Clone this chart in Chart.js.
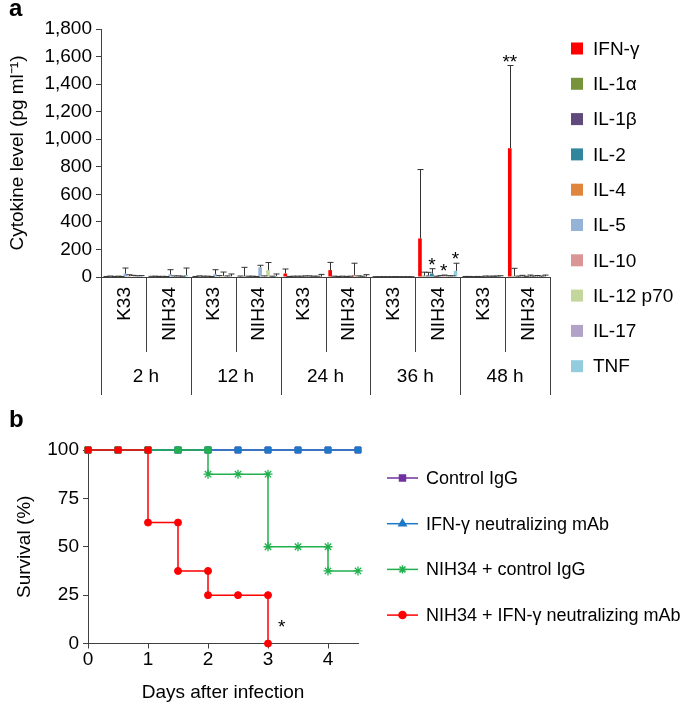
<!DOCTYPE html>
<html>
<head>
<meta charset="utf-8">
<script src="https://cdn.jsdelivr.net/npm/chart.js@4.4.0/dist/chart.umd.min.js"></script>
<style>
    html, body { margin: 0; padding: 0; background: #fff; }
    #wrap { position: relative; width: 685px; height: 706px; }
    canvas { position: absolute; left: 0; }
    #chartA { top: 0; }
    #chartB { top: 410px; }
</style>
</head>
<body>
<div id="wrap">
    <canvas id="chartA" width="685" height="410"></canvas>
    <canvas id="chartB" width="685" height="296"></canvas>
</div>
<script>
// ---- panel a data ----
const groups = ['K33', 'NIH34', 'K33', 'NIH34', 'K33', 'NIH34', 'K33', 'NIH34', 'K33', 'NIH34'];
const timePoints = ['2 h', '12 h', '24 h', '36 h', '48 h'];
const cytokines = ['IFN-γ', 'IL-1α', 'IL-1β', 'IL-2', 'IL-4', 'IL-5', 'IL-10', 'IL-12 p70', 'IL-17', 'TNF'];
const cytokineColors = ['#FF0000', '#77933C', '#604A7B', '#31859C', '#E0863C', '#95B3D7', '#D99694', '#C3D69B', '#B3A2C7', '#93CDDD'];

// mean level per group (2h K33, 2h NIH34, 12h K33, ... 48h NIH34)
const ifng  = [2, 3, 2, 4, 25, 50, 1, 280, 2, 935];
const il1a  = [3, 3, 4, 5, 2, 3, 1, 10, 2, 8];
const il1b  = [2, 2, 3, 3, 3, 2, 1, 12, 1, 3];
const il2   = [3, 3, 3, 3, 3, 3, 1, 25, 2, 4];
const il4   = [2, 2, 2, 2, 3, 2, 1, 3, 1, 2];
const il5   = [25, 20, 20, 70, 4, 3, 2, 5, 4, 4];
const il10  = [8, 4, 5, 4, 4, 15, 1, 8, 3, 3];
const il12  = [6, 4, 8, 50, 3, 4, 1, 5, 3, 3];
const il17  = [5, 3, 4, 3, 3, 3, 1, 5, 4, 3];
const tnf   = [5, 15, 5, 8, 3, 3, 1, 45, 5, 4];

// upper error bars
const ifngErr = [2, 2, 2, 3, 33, 56, 1, 500, 2, 600];
const il1aErr = [4, 3, 4, 65, 2, 3, 1, 25, 2, 55];
const il1bErr = [2, 2, 3, 3, 3, 2, 1, 22, 1, 4];
const il2Err  = [3, 2, 3, 3, 3, 3, 1, 35, 2, 8];
const il4Err  = [2, 2, 2, 2, 3, 2, 1, 3, 1, 3];
const il5Err  = [40, 33, 33, 15, 4, 3, 1, 5, 3, 10];
const il10Err = [8, 4, 5, 4, 4, 85, 1, 6, 3, 4];
const il12Err = [6, 4, 28, 55, 3, 4, 1, 4, 3, 8];
const il17Err = [4, 3, 4, 3, 3, 3, 1, 4, 3, 4];
const tnfErr  = [5, 50, 17, 14, 16, 14, 1, 55, 4, 10];

const levels = [ifng, il1a, il1b, il2, il4, il5, il10, il12, il17, tnf];
const errors = [ifngErr, il1aErr, il1bErr, il2Err, il4Err, il5Err, il10Err, il12Err, il17Err, tnfErr];

// significance marks: group index, cytokine index, text
const sigMarks = [
    { group: 7, cytokine: 3, text: '*' },
    { group: 7, cytokine: 6, text: '*' },
    { group: 7, cytokine: 9, text: '*' },
    { group: 9, cytokine: 0, text: '**' }
];

// ---- panel b data ----
const survivalLabels = ['Control IgG', 'IFN-γ neutralizing mAb', 'NIH34 + control IgG', 'NIH34 + IFN-γ neutralizing mAb'];
const survivalColors = ['#7030A0', '#1E78C8', '#22B04E', '#FF0000'];
const survivalMarkers = ['rect', 'triangle', 'star', 'circle'];

const ctrlDays  = [0, 0.5, 1, 1.5, 2, 2.5, 3, 3.5, 4, 4.5];
const ctrlSurv  = [100, 100, 100, 100, 100, 100, 100, 100, 100, 100];
const mabDays   = [0, 0.5, 1, 1.5, 2, 2.5, 3, 3.5, 4, 4.5];
const mabSurv   = [100, 100, 100, 100, 100, 100, 100, 100, 100, 100];
const nihDays   = [0, 0.5, 1, 1.5, 2, 2, 2.5, 3, 3, 3.5, 4, 4, 4.5];
const nihSurv   = [100, 100, 100, 100, 100, 87.5, 87.5, 87.5, 50, 50, 50, 37.5, 37.5];
const nihMabDays = [0, 0.5, 1, 1, 1.5, 1.5, 2, 2, 2.5, 3, 3];
const nihMabSurv = [100, 100, 100, 62.5, 62.5, 37.5, 37.5, 25, 25, 25, 0];
const survivalStar = { x: 3.23, y: 10, text: '*' };

const FONT = "'Liberation Sans', Arial, Helvetica, sans-serif";
const AXIS = '#404040';
Chart.defaults.font.family = FONT;
Chart.defaults.font.size = 19;
Chart.defaults.color = '#000';

// 面板 a: 误差线、显著性、分组表、图例
const panelA = {
    id: 'panelA',
    afterDatasetsDraw(chart) {
        const ctx = chart.ctx;
        const y = chart.scales.y;
        ctx.save();
        ctx.strokeStyle = '#333';
        ctx.lineWidth = 1;
        chart.data.datasets.forEach((ds, i) => {
            const meta = chart.getDatasetMeta(i);
            meta.data.forEach((bar, j) => {
                const err = errors[i][j];
                if (!err) return;
                const top = y.getPixelForValue(ds.data[j] + err);
                const bx = Math.round(bar.x) + 0.5;
                ctx.beginPath();
                ctx.moveTo(bx, bar.y);
                ctx.lineTo(bx, top);
                ctx.moveTo(bx - 3, top);
                ctx.lineTo(bx + 3, top);
                ctx.stroke();
            });
        });
        ctx.fillStyle = '#000';
        ctx.font = '19px ' + FONT;
        ctx.textAlign = 'center';
        ctx.textBaseline = 'alphabetic';
        sigMarks.forEach(m => {
            const bar = chart.getDatasetMeta(m.cytokine).data[m.group];
            const top = y.getPixelForValue(levels[m.cytokine][m.group] + errors[m.cytokine][m.group]);
            ctx.fillText(m.text, bar.x, top + 2);
        });
        ctx.restore();
    },
    afterDraw(chart) {
        const ctx = chart.ctx;
        const x = chart.scales.x;
        const area = chart.chartArea;
        ctx.save();
        // 表格竖线
        ctx.strokeStyle = AXIS;
        ctx.lineWidth = 1;
        for (let k = 0; k <= groups.length; k++) {
            const xx = Math.round(x.getPixelForValue(k - 0.5)) + 0.5;
            ctx.beginPath();
            ctx.moveTo(xx, area.bottom);
            ctx.lineTo(xx, k % 2 === 0 ? 395 : 352);
            ctx.stroke();
        }
        ctx.fillStyle = '#000';
        ctx.font = '19px ' + FONT;
        // 菌株标签（竖排）
        groups.forEach((g, j) => {
            ctx.save();
            ctx.translate(x.getPixelForValue(j) + 1, 287);
            ctx.rotate(-Math.PI / 2);
            ctx.textAlign = 'right';
            ctx.textBaseline = 'middle';
            ctx.fillText(g, 0, 0);
            ctx.restore();
        });
        // 时间标签
        ctx.textAlign = 'center';
        ctx.textBaseline = 'middle';
        timePoints.forEach((t, i) => {
            ctx.fillText(t, x.getPixelForValue(2 * i + 0.5), 377);
        });
        // 图例
        ctx.textAlign = 'left';
        cytokines.forEach((c, i) => {
            const cy = 48.5 + i * 35.3;
            ctx.fillStyle = cytokineColors[i];
            ctx.fillRect(571, cy - 6, 12, 12);
            ctx.fillStyle = '#000';
            ctx.fillText(c, 593, cy + 1);
        });
        ctx.font = 'bold 24px ' + FONT;
        ctx.textBaseline = 'alphabetic';
        ctx.fillText('a', 9, 16);
        ctx.restore();
    }
};

const chartA = new Chart(document.getElementById('chartA'), {
    type: 'bar',
    data: {
        labels: groups,
        datasets: cytokines.map((c, i) => ({
            label: c,
            data: levels[i],
            backgroundColor: cytokineColors[i],
            borderWidth: 0,
            categoryPercentage: 0.88,
            barPercentage: 0.92
        }))
    },
    options: {
        responsive: false,
        animation: false,
        devicePixelRatio: 1,
        layout: { padding: { top: 29, right: 135, bottom: 133, left: 0 } },
        plugins: { legend: { display: false }, tooltip: { enabled: false } },
        scales: {
            x: {
                ticks: { display: false },
                grid: { display: false },
                border: { display: true, color: AXIS, width: 1 },
                afterFit: s => { s.height = 0; }
            },
            y: {
                min: 0,
                max: 1800,
                ticks: { stepSize: 200, padding: 4, color: '#000' },
                grid: { drawOnChartArea: false, tickLength: 5, color: AXIS },
                border: { color: AXIS, width: 1 },
                title: { display: true, text: 'Cytokine level (pg ml⁻¹)', padding: { top: 6, bottom: 0 }, color: '#000' },
                afterFit: s => { s.width = 101; }
            }
        }
    },
    plugins: [panelA]
});

// 面板 b: 图例、星号、标签
const panelB = {
    id: 'panelB',
    afterDraw(chart) {
        const ctx = chart.ctx;
        const x = chart.scales.x;
        const y = chart.scales.y;
        ctx.save();
        ctx.fillStyle = '#000';
        ctx.font = '19px ' + FONT;
        ctx.textAlign = 'center';
        ctx.textBaseline = 'middle';
        ctx.fillText(survivalStar.text, x.getPixelForValue(survivalStar.x), y.getPixelForValue(survivalStar.y) + 4);
        ctx.font = '18px ' + FONT;
        ctx.textAlign = 'left';
        survivalLabels.forEach((lab, i) => {
            const cy = 68 + i * 45.7;
            ctx.strokeStyle = survivalColors[i];
            ctx.fillStyle = survivalColors[i];
            ctx.lineWidth = 1.5;
            ctx.beginPath();
            ctx.moveTo(387, cy);
            ctx.lineTo(418, cy);
            ctx.stroke();
            Chart.helpers.drawPoint(ctx, {
                pointStyle: survivalMarkers[i],
                radius: survivalMarkers[i] === 'circle' ? 3.5 : 4.2,
                rotation: 0,
                borderWidth: 1.2
            }, 402.5, cy);
            ctx.fillStyle = '#000';
            ctx.fillText(lab, 426, cy + 1);
        });
        ctx.font = 'bold 24px ' + FONT;
        ctx.textBaseline = 'alphabetic';
        ctx.fillText('b', 9, 17);
        ctx.restore();
    }
};

function toPoints(xs, ys) {
    return xs.map((d, i) => ({ x: d, y: ys[i] }));
}

function survivalSet(i, xs, ys, order) {
    return {
        label: survivalLabels[i],
        data: toPoints(xs, ys),
        borderColor: survivalColors[i],
        backgroundColor: survivalColors[i],
        borderWidth: 1.5,
        tension: 0,
        clip: false,
        order: order,
        pointStyle: c => (c.raw && c.raw.y === 100) ? 'rect' : survivalMarkers[i],
        pointRadius: c => (c.raw && c.raw.y === 100) ? 4.2 : (survivalMarkers[i] === 'star' ? 4.5 : 3.5),
        pointBorderWidth: survivalMarkers[i] === 'star' ? 1.3 : 1,
        pointBorderColor: survivalColors[i],
        pointBackgroundColor: survivalColors[i]
    };
}

const chartB = new Chart(document.getElementById('chartB'), {
    type: 'line',
    data: {
        datasets: [
            survivalSet(3, nihMabDays, nihMabSurv, 0),
            survivalSet(2, nihDays, nihSurv, 1),
            survivalSet(1, mabDays, mabSurv, 2),
            survivalSet(0, ctrlDays, ctrlSurv, 3)
        ]
    },
    options: {
        responsive: false,
        animation: false,
        devicePixelRatio: 1,
        layout: { padding: { top: 40, right: 327, bottom: 0, left: 0 } },
        plugins: { legend: { display: false }, tooltip: { enabled: false } },
        scales: {
            x: {
                type: 'linear',
                min: 0,
                max: 4.5,
                ticks: { stepSize: 1, includeBounds: false, padding: 0, color: '#000' },
                grid: { drawOnChartArea: false, tickLength: 5, color: AXIS },
                border: { color: AXIS, width: 1 },
                title: { display: true, text: 'Days after infection', padding: { top: 0, bottom: 2 }, color: '#000' },
                afterFit: s => { s.height = 62.5; }
            },
            y: {
                min: 0,
                max: 100,
                ticks: { stepSize: 25, padding: 4, color: '#000' },
                grid: { drawOnChartArea: false, tickLength: 5, color: AXIS },
                border: { color: AXIS, width: 1 },
                title: { display: true, text: 'Survival (%)', padding: { top: 13, bottom: 0 }, color: '#000' },
                afterFit: s => { s.width = 88; }
            }
        }
    },
    plugins: [panelB]
});
</script>
</body>
</html>
